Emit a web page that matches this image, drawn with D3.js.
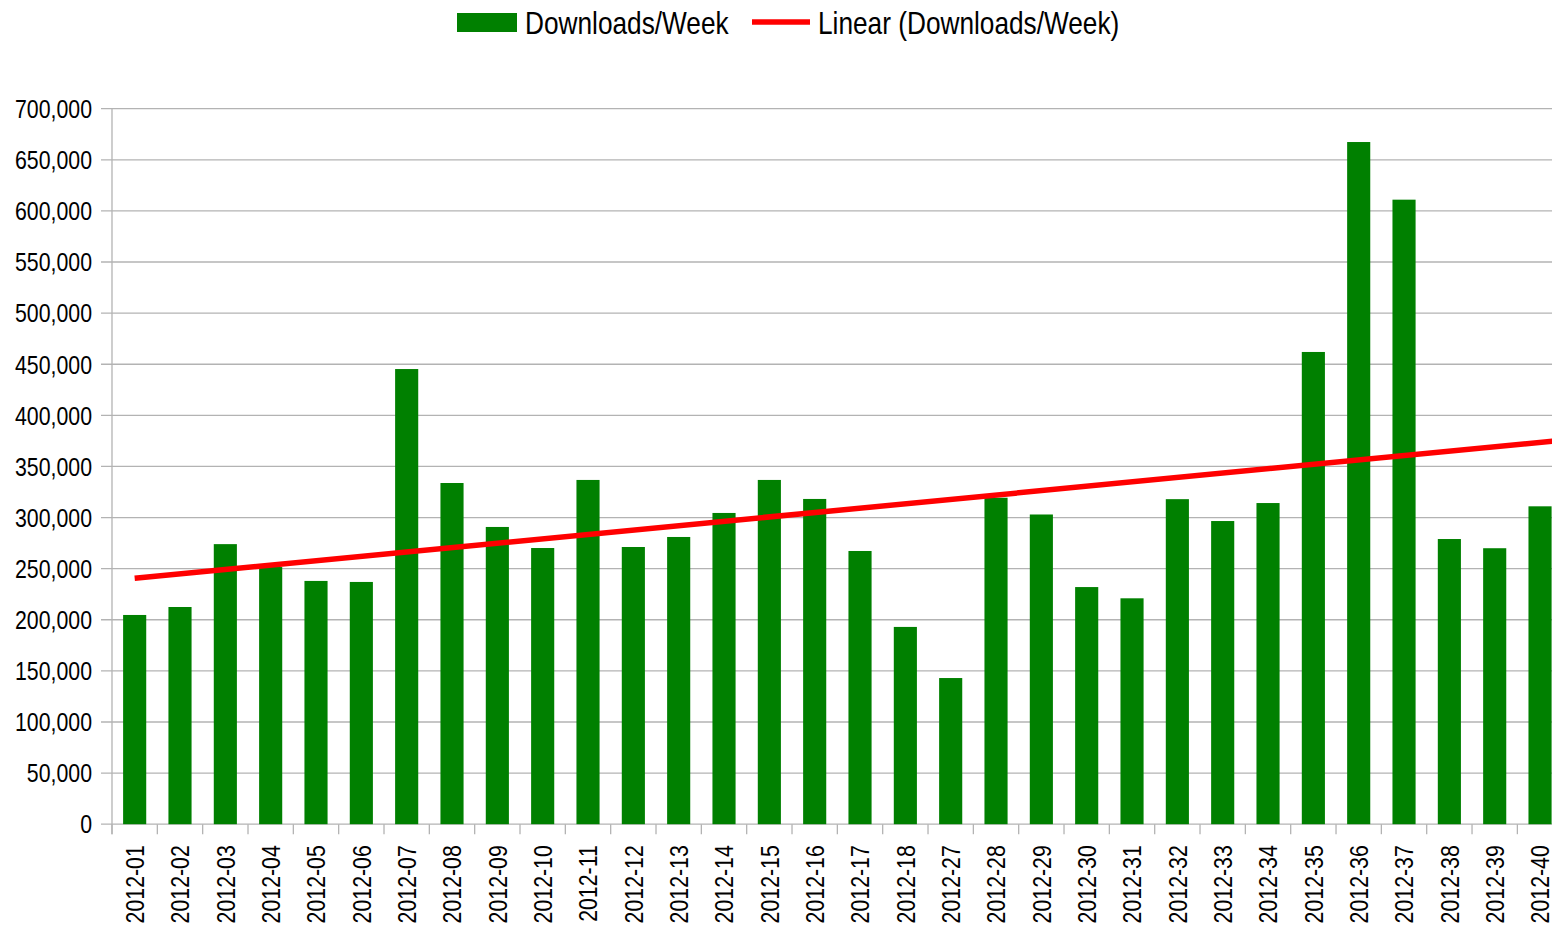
<!DOCTYPE html>
<html>
<head>
    <title>Downloads/Week</title>
    <script src="https://cdnjs.cloudflare.com/ajax/libs/d3/7.8.5/d3.min.js"></script>
    <style>
        body { margin: 0; background: #fff; }
        svg { display: block; }
        text { font-family: "Liberation Sans", Arial, sans-serif; fill: #000; }
    </style>
</head>
<body>
<div id="chart"></div>
<script>
    // weeks shown on the category axis (19-26 are missing in the source)
    var weeks = ["2012-01","2012-02","2012-03","2012-04","2012-05","2012-06","2012-07","2012-08",
                 "2012-09","2012-10","2012-11","2012-12","2012-13","2012-14","2012-15","2012-16",
                 "2012-17","2012-18","2012-27","2012-28","2012-29","2012-30","2012-31","2012-32",
                 "2012-33","2012-34","2012-35","2012-36","2012-37","2012-38","2012-39","2012-40"];
    var downloads = [204700, 212500, 274000, 251600, 238000, 237000, 445300, 333800,
                     290800, 270200, 336800, 271200, 281000, 304500, 336800, 318200,
                     267300, 193000, 143000, 319400, 303000, 232000, 221000, 318000,
                     296600, 314200, 462000, 667400, 611000, 279000, 270000, 311000];
    // linear trend read at first and last week
    var trendFirst = 240600;
    var trendLast = 373500;
    var yTicks = [0, 50000, 100000, 150000, 200000, 250000, 300000, 350000,
                  400000, 450000, 500000, 550000, 600000, 650000, 700000];

    var W = 1552, H = 925;
    var plotL = 112, plotR = 1562.7, plotT = 108.7, plotB = 824.2;
    var narrow = 0.82; // squeeze to look like a narrow face

    var svg = d3.select("#chart").append("svg")
        .attr("width", W)
        .attr("height", H);

    var x = d3.scaleBand().domain(weeks).range([plotL, plotR])
        .paddingInner(0.49).paddingOuter(0.245);
    var y = d3.scaleLinear().domain([0, 700000]).range([plotB, plotT]);
    var step = x.step();

    // grid lines
    svg.append("g").selectAll("line").data(yTicks).enter().append("line")
        .attr("x1", plotL - 11).attr("x2", plotR)
        .attr("y1", function(d){ return y(d); })
        .attr("y2", function(d){ return y(d); })
        .style("stroke", "#b3b3b3").style("stroke-width", 1.3);

    // y labels
    svg.append("g").selectAll("text").data(yTicks).enter().append("text")
        .attr("transform", function(d){ return "translate(92," + y(d) + ") scale(" + narrow + ",1)"; })
        .attr("text-anchor", "end")
        .attr("dominant-baseline", "central")
        .style("font-size", "26px")
        .text(d3.format(","));

    // y axis line
    svg.append("line")
        .attr("x1", plotL).attr("x2", plotL)
        .attr("y1", plotT).attr("y2", plotB + 10)
        .style("stroke", "#b3b3b3").style("stroke-width", 1.3);

    // x ticks at category boundaries
    svg.append("g").selectAll("line").data(d3.range(weeks.length + 1)).enter().append("line")
        .attr("x1", function(i){ return plotL + i * step; })
        .attr("x2", function(i){ return plotL + i * step; })
        .attr("y1", plotB).attr("y2", plotB + 10)
        .style("stroke", "#b3b3b3").style("stroke-width", 1.3);

    // bars
    svg.append("g").selectAll("rect").data(downloads).enter().append("rect")
        .attr("x", function(d, i){ return x(weeks[i]); })
        .attr("width", x.bandwidth())
        .attr("y", function(d){ return y(d); })
        .attr("height", function(d){ return plotB - y(d); })
        .style("fill", "#008000");

    // x labels
    svg.append("g").selectAll("text").data(weeks).enter().append("text")
        .attr("transform", function(d){
            return "translate(" + (x(d) + x.bandwidth() / 2) + "," + (plotB + 21) + ") rotate(-90) scale(" + narrow + ",1)";
        })
        .attr("text-anchor", "end")
        .attr("dominant-baseline", "central")
        .style("font-size", "26px")
        .text(function(d){ return d; });

    // trend line, runs from first week to the right edge of the plot
    var n = weeks.length;
    var slope = (trendLast - trendFirst) / (n - 1);
    var xs = x(weeks[0]) + x.bandwidth() / 2;
    var xe = x(weeks[n - 1]) + x.bandwidth() / 2 + step / 2;
    svg.append("line")
        .attr("x1", xs).attr("y1", y(trendFirst))
        .attr("x2", xe).attr("y2", y(trendLast + slope * 0.5))
        .style("stroke", "#ff0000").style("stroke-width", 5.5);

    // legend
    var lg = svg.append("g");
    lg.append("rect").attr("x", 457).attr("y", 13).attr("width", 60).attr("height", 19)
        .style("fill", "#008000");
    lg.append("text").attr("transform", "translate(525,34) scale(" + narrow + ",1)")
        .style("font-size", "32px").text("Downloads/Week");
    lg.append("line").attr("x1", 752).attr("x2", 810).attr("y1", 22).attr("y2", 22)
        .style("stroke", "#ff0000").style("stroke-width", 5.5);
    lg.append("text").attr("transform", "translate(818,34) scale(" + narrow + ",1)")
        .style("font-size", "32px").text("Linear (Downloads/Week)");
</script>
</body>
</html>
